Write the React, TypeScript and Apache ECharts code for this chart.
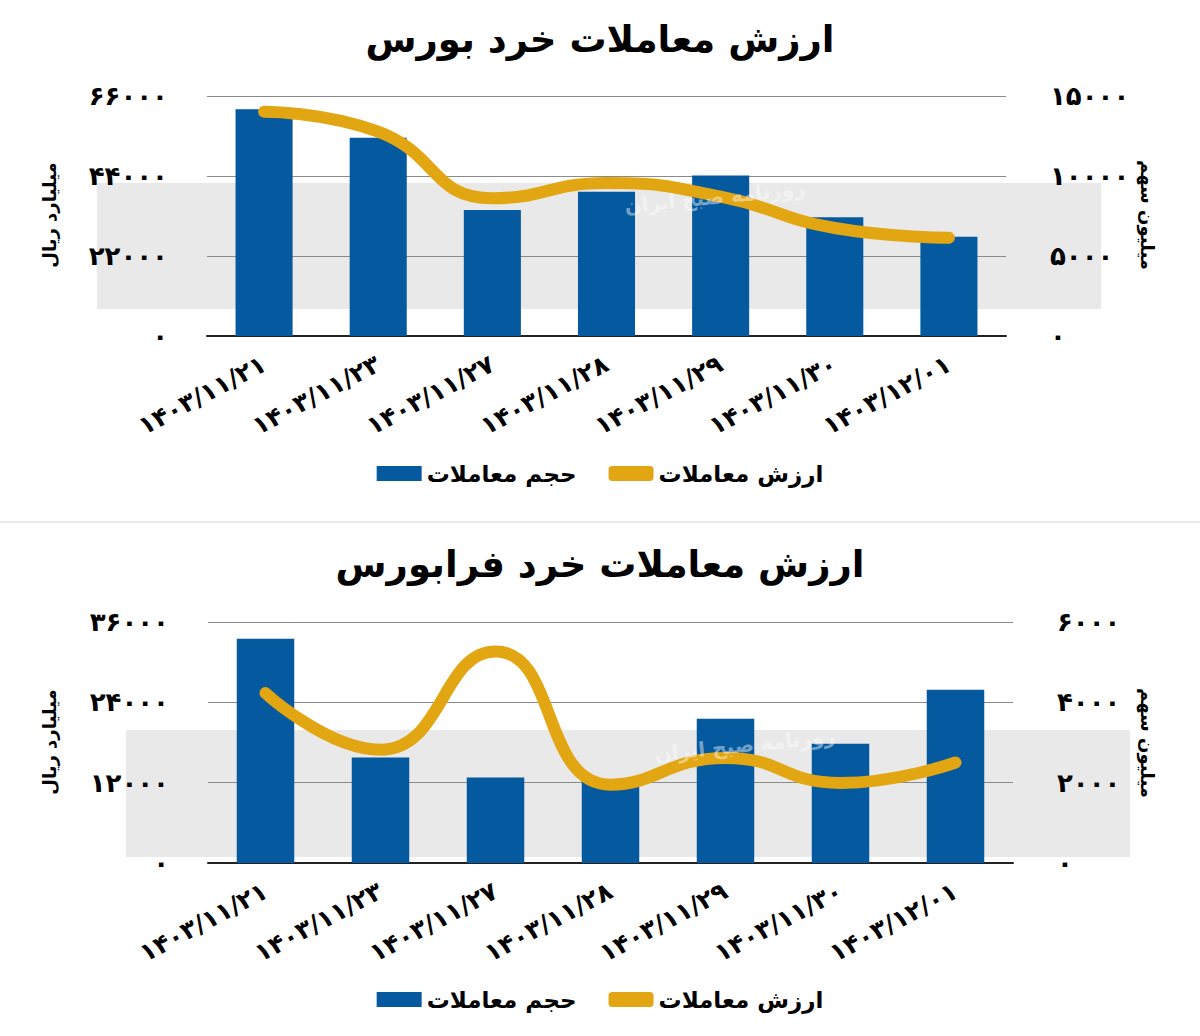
import React, { useEffect, useRef } from "react";
import * as echarts from "echarts";

const categories = [
  "۱۴۰۳/۱۱/۲۱",
  "۱۴۰۳/۱۱/۲۳",
  "۱۴۰۳/۱۱/۲۷",
  "۱۴۰۳/۱۱/۲۸",
  "۱۴۰۳/۱۱/۲۹",
  "۱۴۰۳/۱۱/۳۰",
  "۱۴۰۳/۱۲/۰۱",
];

const titleBourse = "ارزش معاملات خرد بورس";
const titleFarabourse = "ارزش معاملات خرد فرابورس";
const volumeName = "حجم معاملات";
const valueName = "ارزش معاملات";
const leftAxisName = "میلیارد ریال";
const rightAxisName = "میلیون سهم";

// Bourse (top chart)
const bourseVolume = [14170, 12390, 7875, 9020, 10030, 7420, 6200]; // million shares (right axis)
const bourseValue = [61680, 56180, 37870, 42080, 38300, 29700, 27040]; // billion rial (left axis)
const bourseLeftTicks = [0, 22000, 44000, 66000];
const bourseRightTicks = [0, 5000, 10000, 15000];

// Farabourse (bottom chart)
const faraVolume = [5586, 2628, 2130, 2064, 3594, 2970, 4314];
const faraValue = [25380, 16920, 31610, 11700, 15700, 11950, 15010];
const faraLeftTicks = [0, 12000, 24000, 36000];
const faraRightTicks = [0, 2000, 4000, 6000];

const watermarkText = "روزنامه صبح ایران";

const BLUE = "#05599E";
const GOLD = "#E2A612";
const FONT = "DejaVu Sans";

const toFa = (v: number | string) =>
  String(v).replace(/\d/g, (d) => "۰۱۲۳۴۵۶۷۸۹"[Number(d)]);

function yAxisFor(ticks: number[], gridIndex: number, side: "left" | "right", showSplit: boolean) {
  return {
    type: "value",
    gridIndex,
    position: side,
    min: ticks[0],
    max: ticks[ticks.length - 1],
    interval: ticks[1] - ticks[0],
    axisLine: { show: false },
    axisTick: { show: false },
    splitLine: { show: showSplit, lineStyle: { color: "#8a8a8a", width: 1 } },
    axisLabel: {
      formatter: (v: number) => toFa(v),
      fontFamily: FONT,
      fontWeight: "bold",
      fontSize: 26,
      color: "#000",
      margin: side === "left" ? 39 : 44,
    },
  };
}

function xAxisFor(gridIndex: number) {
  return {
    type: "category",
    gridIndex,
    data: categories,
    axisLine: { show: true, lineStyle: { color: "#222", width: 2 } },
    axisTick: { show: false },
    axisLabel: {
      rotate: 28,
      interval: 0,
      margin: 26,
      fontFamily: FONT,
      fontWeight: "bold",
      fontSize: 25,
      color: "#000",
    },
  };
}

function axisNameText(text: string, x: number, y: number, rot: number) {
  return {
    type: "text",
    x,
    y,
    rotation: rot,
    z: 10,
    style: {
      text,
      fill: "#000",
      font: `bold 18px "${FONT}"`,
      align: "center",
      verticalAlign: "middle",
    },
  };
}

const legendText = { fontFamily: FONT, fontWeight: "bold", fontSize: 23, color: "#000" };

export default function App() {
  const ref = useRef<HTMLDivElement>(null);
  useEffect(() => {
    if (!ref.current) return;
    const chart = echarts.init(ref.current, undefined, { renderer: "svg" });
    const option = {
      animation: false,
      backgroundColor: "#fff",
      textStyle: { fontFamily: FONT },
      title: [
        {
          text: titleBourse,
          left: "center",
          top: 16,
          textStyle: { fontFamily: FONT, fontWeight: "bold", fontSize: 37, color: "#000" },
        },
        {
          text: titleFarabourse,
          left: "center",
          top: 541,
          textStyle: { fontFamily: FONT, fontWeight: "bold", fontSize: 37, color: "#000" },
        },
      ],
      legend: [
        {
          left: "center",
          top: 457,
          itemWidth: 45,
          itemHeight: 15,
          itemGap: 32,
          textStyle: legendText,
          data: [
            { name: volumeName, icon: "rect" },
            { name: valueName, icon: "roundRect" },
          ],
        },
        {
          left: "center",
          top: 983,
          itemWidth: 45,
          itemHeight: 15,
          itemGap: 32,
          textStyle: legendText,
          data: [
            { name: volumeName, icon: "rect" },
            { name: valueName, icon: "roundRect" },
          ],
        },
      ],
      grid: [
        { left: 207, right: 194, top: 96, height: 240, containLabel: false },
        { left: 208, right: 187, top: 622, height: 241, containLabel: false },
      ],
      xAxis: [xAxisFor(0), xAxisFor(1)],
      yAxis: [
        yAxisFor(bourseLeftTicks, 0, "left", true),
        yAxisFor(bourseRightTicks, 0, "right", false),
        yAxisFor(faraLeftTicks, 1, "left", true),
        yAxisFor(faraRightTicks, 1, "right", false),
      ],
      series: [
        {
          name: volumeName,
          type: "bar",
          xAxisIndex: 0,
          yAxisIndex: 1,
          data: bourseVolume,
          barWidth: "50%",
          itemStyle: { color: BLUE },
          z: 2,
        },
        {
          name: valueName,
          type: "line",
          xAxisIndex: 0,
          yAxisIndex: 0,
          data: bourseValue,
          smooth: 0.5,
          symbol: "none",
          lineStyle: { color: GOLD, width: 12, cap: "round", join: "round" },
          itemStyle: { color: GOLD },
          z: 3,
        },
        {
          name: volumeName,
          type: "bar",
          xAxisIndex: 1,
          yAxisIndex: 3,
          data: faraVolume,
          barWidth: "50%",
          itemStyle: { color: BLUE },
          z: 2,
        },
        {
          name: valueName,
          type: "line",
          xAxisIndex: 1,
          yAxisIndex: 2,
          data: faraValue,
          smooth: 0.5,
          symbol: "none",
          lineStyle: { color: GOLD, width: 12, cap: "round", join: "round" },
          itemStyle: { color: GOLD },
          z: 3,
        },
      ],
      graphic: [
        // watermark bands (behind)
        { type: "rect", z: -10, shape: { x: 97, y: 183, width: 1004, height: 126 }, style: { fill: "#e9e9e9" } },
        { type: "rect", z: -10, shape: { x: 126, y: 730, width: 1004, height: 127 }, style: { fill: "#e9e9e9" } },
        // separator
        { type: "line", z: 1, shape: { x1: 0, y1: 522, x2: 1200, y2: 522 }, style: { stroke: "#d6d6d6", lineWidth: 1 } },
        // watermark texts
        {
          type: "text",
          x: 715,
          y: 197,
          rotation: 0.1,
          z: 20,
          style: {
            text: watermarkText,
            fill: "rgba(255,255,255,0.45)",
            font: `bold 20px "${FONT}"`,
            align: "center",
            verticalAlign: "middle",
          },
        },
        {
          type: "text",
          x: 745,
          y: 745,
          rotation: 0.1,
          z: 20,
          style: {
            text: watermarkText,
            fill: "rgba(255,255,255,0.45)",
            font: `bold 20px "${FONT}"`,
            align: "center",
            verticalAlign: "middle",
          },
        },
        axisNameText(leftAxisName, 49, 215, Math.PI / 2),
        axisNameText(rightAxisName, 1147, 215, -Math.PI / 2),
        axisNameText(leftAxisName, 49, 742, Math.PI / 2),
        axisNameText(rightAxisName, 1147, 743, -Math.PI / 2),
      ],
    };
    chart.setOption(option as any);
    return () => chart.dispose();
  }, []);
  return (
    <div
      ref={ref}
      style={{ position: "absolute", left: 0, top: 0, width: 1200, height: 1036 }}
    />
  );
}
